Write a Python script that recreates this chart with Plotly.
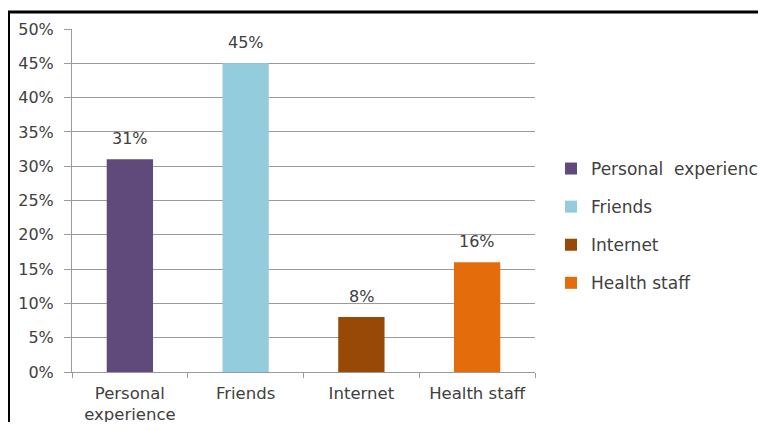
import plotly.graph_objects as go

categories = ["Personal<br>experience", "Friends", "Internet", "Health staff"]
legend_names = ["Personal  experience", "Friends", "Internet", "Health staff"]
values = [31, 45, 8, 16]
labels = ["31%", "45%", "8%", "16%"]
colors = ["#604A7B", "#93CDDD", "#984807", "#E46C0A"]
y_ticks = [0, 5, 10, 15, 20, 25, 30, 35, 40, 45, 50]
y_tick_text = [f"{v}%" for v in y_ticks]

FONT = "DejaVu Sans"
TXT = "#404040"
GRID = "#9A9A9A"

fig = go.Figure()
for i, (c, n, v, col) in enumerate(zip(categories, legend_names, values, colors)):
    fig.add_trace(go.Bar(x=[c], y=[v], name=n, marker=dict(color=col, line=dict(width=0)),
                         width=0.4, legendgroup=f"g{i}", hoverinfo="skip"))

for c, v, t in zip(categories, values, labels):
    fig.add_annotation(x=c, y=v, text=t, showarrow=False, yanchor="bottom", yshift=9,
                       font=dict(family=FONT, size=16, color=TXT))

W, H = 750, 414
l, t, pw, ph = 64, 21, 463, 343
r = W - l - pw
b = H - t - ph
bx = (0.5 - l) / pw
by = 1 + (t - 4) / ph
fig.add_shape(type="path", xref="paper", yref="paper",
              path=f"M {bx} -0.5 L {bx} {by} L 1.7 {by}",
              line=dict(color="black", width=3))

fig.update_layout(
    width=W, height=H,
    margin=dict(l=l, r=r, t=t, b=b, autoexpand=False),
    paper_bgcolor="white", plot_bgcolor="white",
    barmode="overlay",
    font=dict(family=FONT, size=16, color=TXT),
    showlegend=True,
    legend=dict(x=1 + (543 - 527) / pw, y=0.4257, xanchor="left", yanchor="middle",
                traceorder="grouped", tracegroupgap=13,
                font=dict(family=FONT, size=17, color=TXT),
                bgcolor="rgba(0,0,0,0)"),
    xaxis=dict(showline=True, linecolor=GRID, linewidth=1, automargin=False,
               ticks="outside", tickson="boundaries", ticklen=5, tickcolor=GRID,
               ticklabelstandoff=6, tickangle=0,
               tickfont=dict(family=FONT, size=16.5, color=TXT), showgrid=False),
    yaxis=dict(range=[0, 50], tickvals=y_ticks, ticktext=y_tick_text, automargin=False,
               showline=True, linecolor=GRID, linewidth=1,
               ticks="outside", ticklen=7, tickcolor=GRID,
               showgrid=True, gridcolor=GRID, gridwidth=1, zeroline=False,
               ticklabelstandoff=7,
               tickfont=dict(family=FONT, size=16, color=TXT)),
)

fig.write_html("out.html")
